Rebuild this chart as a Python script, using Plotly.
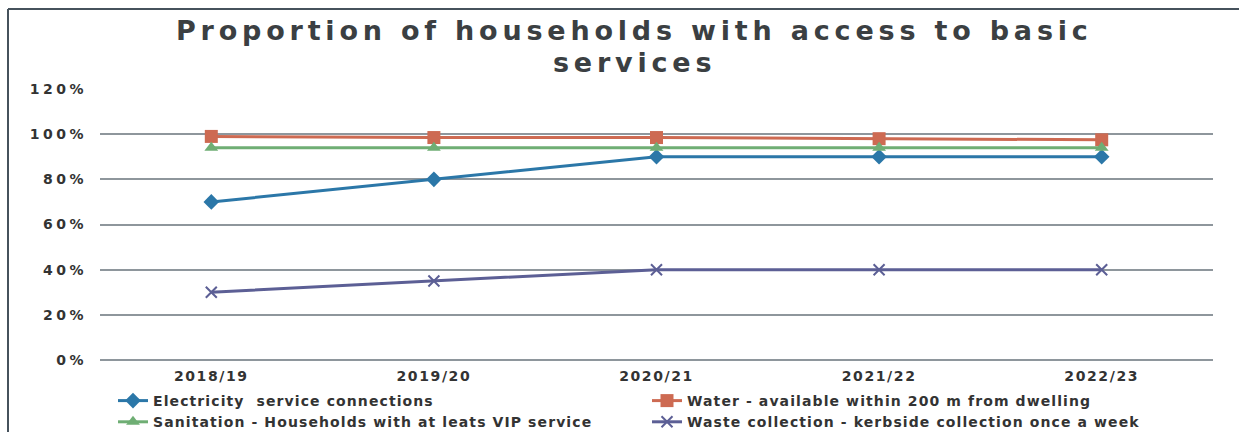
import plotly.graph_objects as go

# Financial years on the category axis
years = ["2018/19", "2019/20", "2020/21", "2021/22", "2022/23"]

# Share of households with access to each basic service
electricity = [0.70, 0.80, 0.90, 0.90, 0.90]
water = [0.99, 0.985, 0.985, 0.98, 0.975]
sanitation = [0.94, 0.94, 0.94, 0.94, 0.94]
waste = [0.30, 0.35, 0.40, 0.40, 0.40]

series_names = [
    "Electricity  service connections",
    "Water - available within 200 m from dwelling",
    "Sanitation - Households with at leats VIP service",
    "Waste collection - kerbside collection once a week",
]

y_tick_values = [0, 0.2, 0.4, 0.6, 0.8, 1.0, 1.2]
y_tick_labels = ["0%", "20%", "40%", "60%", "80%", "100%", "120%"]

title_lines = ["Proportion of households with access to basic", "services"]

FONT = "DejaVu Sans"


def spaced(text, px):
    return f'<span style="letter-spacing:{px}px">{text}</span>'


W, H = 1239, 432
ML, MR, MT, MB = 100, 26, 89, 72
plot_w = W - ML - MR
plot_h = H - MT - MB


def px_x(x):
    return (x - ML) / plot_w


def px_y(y):
    return (H - MB - y) / plot_h


fig = go.Figure()

styles = [
    dict(color="#2b77a8", symbol="diamond", size=12, line=dict(width=0)),
    dict(color="#cd6a52", symbol="square", size=13, line=dict(width=0)),
    dict(color="#6fae74", symbol="triangle-up", size=12, line=dict(width=0)),
    dict(color="#5c5f95", symbol="x-thin", size=11, line=dict(width=2, color="#5c5f95")),
]
line_colors = ["#2b77a8", "#cd6a52", "#6fae74", "#5c5f95"]

for name, vals, mk, lc in zip(series_names, [electricity, water, sanitation, waste], styles, line_colors):
    fig.add_trace(go.Scatter(
        x=years, y=vals, name=spaced(name, 1.1), mode="lines+markers",
        line=dict(color=lc, width=3), marker=mk,
    ))

# Frame drawn along the top and left of the chart
frame = "#46525c"
fig.add_shape(type="line", xref="paper", yref="paper",
              x0=px_x(8), x1=px_x(W + 2), y0=px_y(9), y1=px_y(9),
              line=dict(color=frame, width=2))
fig.add_shape(type="line", xref="paper", yref="paper",
              x0=px_x(8), x1=px_x(8), y0=px_y(9), y1=px_y(H + 2),
              line=dict(color=frame, width=2))

# Two-line chart title
for text, yc in zip(title_lines, [30, 62]):
    fig.add_annotation(
        text=spaced(text, 4.8), xref="paper", yref="paper",
        x=px_x(634), y=px_y(yc), xanchor="center", yanchor="middle",
        showarrow=False,
        font=dict(family=FONT, size=27, color="#3b3f42", weight="bold"),
    )

fig.update_layout(
    width=W, height=H,
    margin=dict(l=ML, r=MR, t=MT, b=MB, autoexpand=False),
    paper_bgcolor="white", plot_bgcolor="white",
    font=dict(family=FONT, color="#333333"),
    xaxis=dict(
        type="category", range=[-0.5, 4.5], showgrid=False, showline=False,
        zeroline=False, ticks="", ticklabelstandoff=6,
        tickvals=years, ticktext=[spaced(y, 1.6) for y in years],
        tickfont=dict(family=FONT, size=14, color="#333333", weight="bold"),
    ),
    yaxis=dict(
        range=[0, 1.2], tickvals=y_tick_values,
        ticktext=[spaced(t, 3.5) for t in y_tick_labels],
        showgrid=True, gridcolor="#8e969c", gridwidth=1.5,
        zeroline=True, zerolinecolor="#8e969c", zerolinewidth=1.5,
        showline=False, ticks="", ticklabelstandoff=12,
        tickfont=dict(family=FONT, size=14, color="#333333", weight="bold"),
    ),
    legend=dict(
        orientation="h", xref="container", yref="container",
        x=113 / W, xanchor="left",
        y=1 - 385 / H, yanchor="top",
        entrywidth=489, entrywidthmode="pixels",
        font=dict(family=FONT, size=14, color="#333333", weight="bold"),
        tracegroupgap=0,
        bgcolor="rgba(0,0,0,0)",
    ),
    showlegend=True,
)

fig.write_html("out.html")
